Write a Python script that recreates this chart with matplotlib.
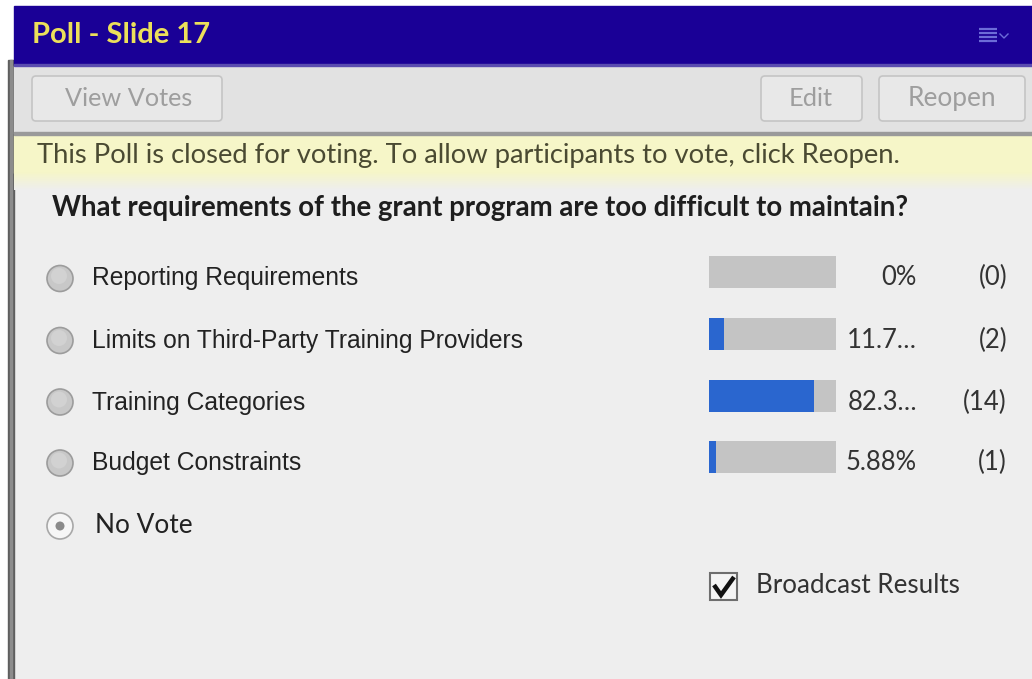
import numpy as np
import matplotlib
matplotlib.use("Agg")
import matplotlib.pyplot as plt
from matplotlib.patches import Rectangle, FancyBboxPatch, Circle

# Poll content
title = "Poll - Slide 17"
status_msg = "This Poll is closed for voting. To allow participants to vote, click Reopen."
question = "What requirements of the grant program are too difficult to maintain?"
options = ["Reporting Requirements",
           "Limits on Third-Party Training Providers",
           "Training Categories",
           "Budget Constraints"]
votes = [0, 2, 14, 1]
pct_labels = ["0%", "11.7\u2026", "82.3\u2026", "5.88%"]
count_labels = ["(0)", "(2)", "(14)", "(1)"]
no_vote_label = "No Vote"
buttons = ["View Votes", "Edit", "Reopen"]
broadcast_label = "Broadcast Results"

total = sum(votes)
pct = [100.0 * v / total for v in votes]

W, H = 1032, 679
fig = plt.figure(figsize=(W / 100, H / 100), dpi=100)
fig.patch.set_facecolor("white")
ax = fig.add_axes([0, 0, 1, 1])
ax.set_xlim(0, W)
ax.set_ylim(H, 0)
ax.axis("off")
renderer = fig.canvas.get_renderer()

UI_FONT = ["Lato", "DejaVu Sans"]
LABEL_FONT = ["Liberation Sans", "DejaVu Sans"]


def fit_text(x, y, s, width, ha="left", **kw):
    t = ax.text(x, y, s, fontsize=10, ha=ha, va="baseline", **kw)
    bb = t.get_window_extent(renderer)
    t.set_fontsize(10 * width / bb.width)
    return t


# panel background and frame
ax.add_patch(Rectangle((14, 60), W - 14, H - 60, color="#eeeeee", zorder=0))
ax.add_patch(Rectangle((8, 60), 6, H - 60, color="#5e5e5e", zorder=1))
ax.add_patch(Rectangle((10, 60), 2, H - 60, color="#8c8c8c", zorder=1))

# title bar
ax.add_patch(Rectangle((14, 6), W - 14, 59, color="#1a0096", zorder=1))
ax.add_patch(Rectangle((14, 63.5), W - 14, 2, color="#5a4cb0", zorder=2))
fit_text(32, 43, title, 178, color="#ece05a", fontweight="bold", family=UI_FONT, zorder=3)
for yy in (29, 33, 37, 41):
    ax.plot([979, 997], [yy, yy], color="#6c6cd8", lw=1.6, zorder=3, solid_capstyle="butt")
ax.plot([1000, 1004, 1008], [34, 38, 34], color="#6c6cd8", lw=1.0, zorder=3)

# toolbar
ax.add_patch(Rectangle((14, 65.5), W - 14, 68, color="#e2e2e2", zorder=1))
ax.add_patch(Rectangle((14, 132), W - 14, 2.5, color="#9a9a9a", zorder=2))
btn_boxes = [(32, 222), (761, 862), (879, 1025)]
btn_text = [(65, 193), (789, 833), (908, 997)]
for name, (x0, x1), (t0, t1) in zip(buttons, btn_boxes, btn_text):
    ax.add_patch(FancyBboxPatch((x0, 76), x1 - x0, 45,
                                boxstyle="round,pad=0,rounding_size=4",
                                fc="#e8e8e8", ec="#c4c4c4", lw=1.2, zorder=2))
    fit_text(t0, 106, name, t1 - t0, color="#9e9e9e", family=UI_FONT, zorder=3)

# status band with soft fade into the panel
ax.add_patch(Rectangle((14, 134.5), W - 14, 38, color="#f6f6c8", zorder=1))
fade = np.linspace(0, 1, 64)[:, None, None]
c0 = np.array([0xf6, 0xf6, 0xc8]) / 255
c1 = np.array([0xee, 0xee, 0xee]) / 255
grad = (1 - fade) * c0 + fade * c1
ax.imshow(np.repeat(grad, 2, axis=1), extent=(14, W, 190, 172), aspect="auto",
          zorder=1, interpolation="bilinear")
ax.set_xlim(0, W)
ax.set_ylim(H, 0)
fit_text(37, 163, status_msg, 865, color="#4a4a32", family=UI_FONT, zorder=3)

# question
fit_text(52, 216, question, 858, color="#1e1e1e", fontweight="bold", family=UI_FONT, zorder=3)

# option rows
label_base = [285, 348, 410, 470]
radio_cy = [278.5, 340.5, 402, 463]
ref = fit_text(92, label_base[1], options[1], 435, color="#222222",
               family=LABEL_FONT, zorder=3)
label_size = ref.get_fontsize()
for i, name in enumerate(options):
    if i != 1:
        ax.text(92, label_base[i], name, fontsize=label_size, color="#222222",
                family=LABEL_FONT, va="baseline", zorder=3)
    ax.add_patch(Circle((60, radio_cy[i]), 13, fc="#c8c8c8", ec="#9c9c9c", lw=1.2, zorder=2))
    ax.add_patch(Circle((59, radio_cy[i] - 2.5), 8, fc="#d2d2d2", ec="none", zorder=2))

# "No Vote" selected radio
ax.add_patch(Circle((60, 526), 13, fc="#f6f6f6", ec="#a8a8a8", lw=1.2, zorder=2))
ax.add_patch(Circle((60, 526), 4.5, fc="#8a8a8a", ec="none", zorder=3))
fit_text(95, 533, no_vote_label, 98, color="#222222", family=UI_FONT, zorder=3)

# result bars
row_px = 61.8
top_px = 272 - row_px / 2
bar_ax = fig.add_axes([709 / W, 1 - (top_px + 4 * row_px) / H, 127 / W, 4 * row_px / H])
bar_ax.set_xlim(0, 100)
bar_ax.set_ylim(3.5, -0.5)
bar_ax.axis("off")
rows = np.arange(len(options))
bar_h = 32 / row_px
bar_ax.barh(rows, [100] * len(options), height=bar_h, color="#c4c4c4", linewidth=0)
bar_ax.barh(rows, pct, height=bar_h, color="#2a66cf", linewidth=0)

t = fit_text(917, label_base[3], pct_labels[3], 71, ha="right",
             color="#333333", family=UI_FONT, zorder=3)
pct_size = t.get_fontsize()
for i in range(len(options)):
    if i != 3:
        ax.text(917, label_base[i], pct_labels[i], fontsize=pct_size, ha="right",
                va="baseline", color="#333333", family=UI_FONT, zorder=3)
    ax.text(1007, label_base[i], count_labels[i], fontsize=pct_size, ha="right",
            va="baseline", color="#333333", family=UI_FONT, zorder=3)

# broadcast checkbox
ax.add_patch(Rectangle((709.5, 573), 27, 27, fc="#f4f4f4", ec="#6e6e6e", lw=1.5, zorder=2))
ax.plot([714, 721, 734], [585, 595, 577], color="#111111", lw=3.2, zorder=3,
        solid_joinstyle="miter", solid_capstyle="butt")
fit_text(756, 593, broadcast_label, 204, color="#333333", family=UI_FONT, zorder=3)

fig.savefig("out.png", dpi=100, facecolor=fig.get_facecolor())
